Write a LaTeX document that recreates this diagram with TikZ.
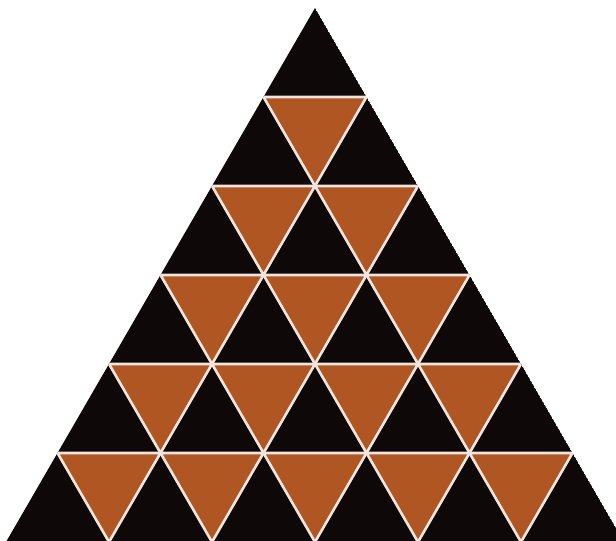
\documentclass[tikz,border=0pt]{standalone}
\begin{document}
\begin{tikzpicture}[x=1pt,y=1pt,
  uptri/.style={fill=blk},
  downtri/.style={fill=org,draw=sep,line width=2.6pt,line join=round}]
\definecolor{blk}{RGB}{14,8,8}
\definecolor{org}{RGB}{176,86,34}
\definecolor{sep}{RGB}{242,228,222}
\useasboundingbox (0,0) rectangle (616,541);
\fill[white] (0,0) rectangle (616,541);
\def\vx#1#2{\fpeval{315+51.5*(2*(#2)-(#1))}}
\def\vy#1{\fpeval{533-89*(#1)}}
\begin{scope}
\clip (315,533) -- (6,-1) -- (624,-1) -- cycle;
\foreach \r in {0,...,5}{
  \pgfmathtruncatemacro{\rr}{\r+1}
  \foreach \j in {0,...,\r}{
    \pgfmathtruncatemacro{\jj}{\j+1}
    \fill[blk] (\vx{\r}{\j},\vy{\r}) -- (\vx{\rr}{\j},\vy{\rr}) -- (\vx{\rr}{\jj},\vy{\rr}) -- cycle;
  }
}
\foreach \r in {1,...,5}{
  \pgfmathtruncatemacro{\rr}{\r+1}
  \pgfmathtruncatemacro{\rm}{\r-1}
  \foreach \j in {0,...,\rm}{
    \pgfmathtruncatemacro{\jj}{\j+1}
    \path[downtri] (\vx{\r}{\j},\vy{\r}) -- (\vx{\r}{\jj},\vy{\r}) -- (\vx{\rr}{\jj},\vy{\rr}) -- cycle;
  }
}
\end{scope}
\end{tikzpicture}
\end{document}
